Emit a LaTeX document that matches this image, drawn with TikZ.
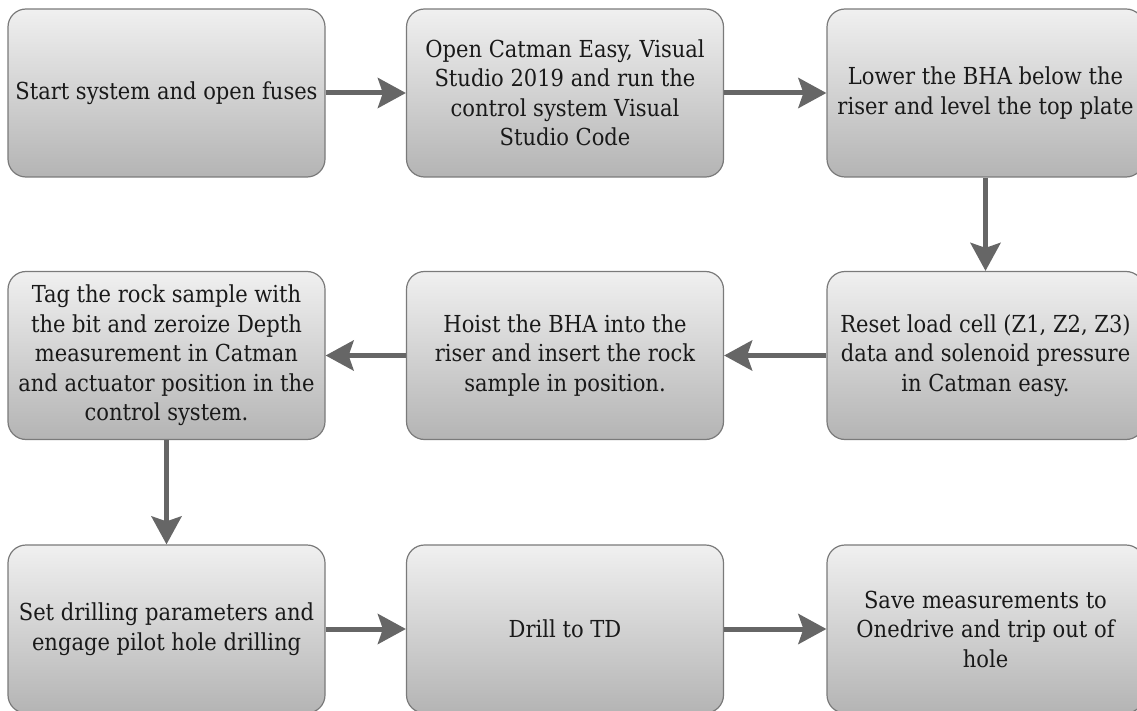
\documentclass[tikz,border=0pt]{standalone}
\usepackage{fontspec}
\setmainfont{DejaVu Serif Condensed}
\usepackage{tikz}
\usetikzlibrary{arrows.meta}
\definecolor{boxline}{HTML}{7A7A7A}
\definecolor{boxtop}{HTML}{F0F0F0}
\definecolor{boxbot}{HTML}{B4B4B4}
\definecolor{flowarrow}{HTML}{666666}

\begin{document}
\begin{tikzpicture}[x=1pt,y=-1pt,
    stepbox/.style={draw=boxline,line width=1.2pt,rounded corners=18pt,
      top color=boxtop,bottom color=boxbot,
      minimum width=317pt,minimum height=168pt,
      align=center,text=black!90,font=\fontsize{23.4}{29.5}\selectfont,inner sep=2pt},
    flow/.style={draw=flowarrow,line width=5pt,
      -{Stealth[length=28pt,width=30pt,inset=5pt]}}]
      \useasboundingbox (0,0) rectangle (1137,711);
      % first row, left to right
      \node[stepbox] (start) at (166.5,93) {Start system and open fuses};
      \node[stepbox] (soft) at (565,93) {Open Catman Easy, Visual\\Studio 2019 and run the\\control system Visual\\Studio Code};
      \node[stepbox] (lower) at (985.5,93) {Lower the BHA below the\\riser and level the top plate};
      % second row, right to left
      \node[stepbox] (reset) at (985.5,355.5) {Reset load cell (Z1, Z2, Z3)\\data and solenoid pressure\\in Catman easy.};
      \node[stepbox] (hoist) at (565,355.5) {Hoist the BHA into the\\riser and insert the rock\\sample in position.};
      \node[stepbox] (tag) at (166.5,355.5) {Tag the rock sample with\\the bit and zeroize Depth\\measurement in Catman\\and actuator position in the\\control system.};
      % third row
      \node[stepbox] (param) at (166.5,629) {Set drilling parameters and\\engage pilot hole drilling};
      \node[stepbox] (drill) at (565,629) {Drill to TD};
      \node[stepbox] (save) at (985.5,629) {Save measurements to\\Onedrive and trip out of\\hole};
      \draw[flow] (start) -- (soft);
      \draw[flow] (soft) -- (lower);
      \draw[flow] (lower) -- (reset);
      \draw[flow] (reset) -- (hoist);
      \draw[flow] (hoist) -- (tag);
      \draw[flow] (tag) -- (param);
      \draw[flow] (param) -- (drill);
      \draw[flow] (drill) -- (save);
    \end{tikzpicture}
\end{document}
